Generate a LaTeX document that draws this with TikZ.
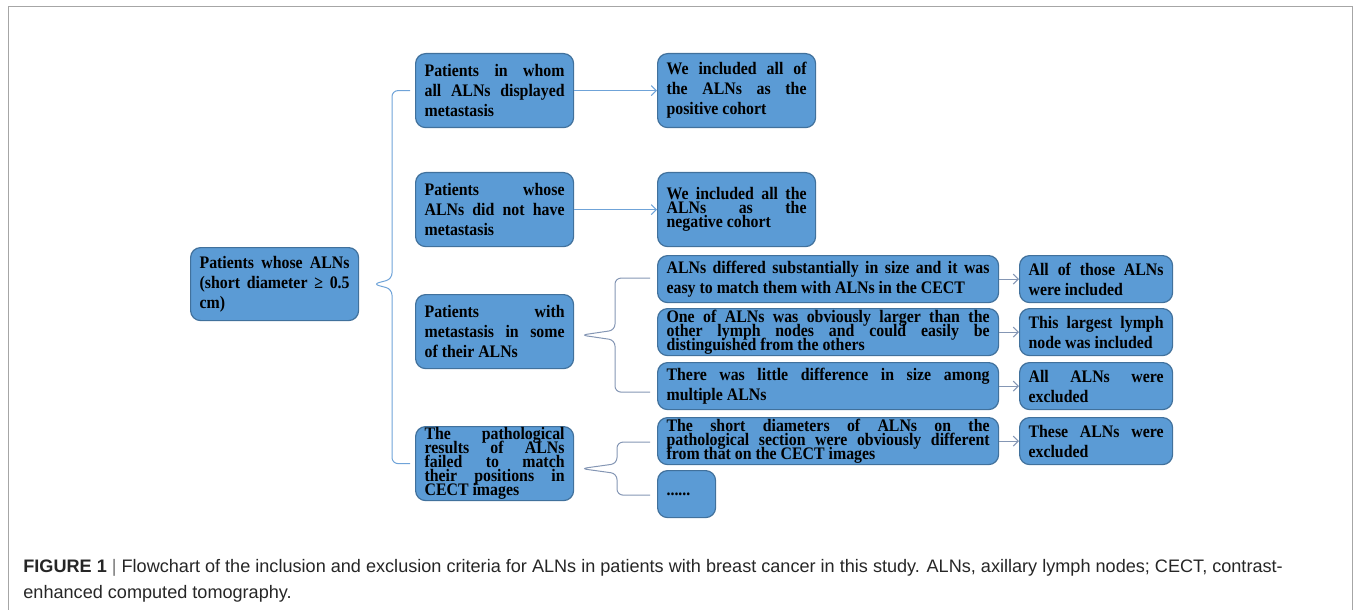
\documentclass[tikz,border=0pt]{standalone}
\usepackage{fontspec}
\setmainfont{Liberation Serif}[FakeStretch=0.9]
\newfontfamily\capfont{Liberation Sans}
\usetikzlibrary{arrows.meta,calc}

\definecolor{cellfill}{HTML}{5B9BD5}
\definecolor{cellline}{HTML}{41719C}
\definecolor{linkblue}{HTML}{6FA3D8}
\definecolor{braceslate}{HTML}{8496B4}
\definecolor{framegray}{HTML}{A6A6A6}

% one justified line of a box
\newcommand{\jl}[1]{{\parfillskip=0pt\relax #1\par}}
\newcommand{\cellfont}{\fontsize{8.8pt}{10pt}\selectfont\bfseries\parindent=0pt\parskip=0pt\relax}
\newcommand{\tightfont}{\fontsize{8.8pt}{7pt}\selectfont\bfseries\parindent=0pt\parskip=0pt\lineskiplimit=-20pt\relax}

\tikzset{
  cell/.style={draw=cellline, fill=cellfill, line width=0.6pt, rounded corners=5pt, align=justify,
    anchor=north west, inner xsep=4.5pt, inner ysep=0pt, font=\cellfont, text=black},
  tight/.style={font=\tightfont},
  link/.style={draw=linkblue, line width=0.5pt, -{Straight Barb[length=2.5pt,width=5pt]}},
  sublink/.style={link, draw=braceslate},
  bracket/.style={draw=linkblue, line width=0.5pt, rounded corners=3pt},
  subbracket/.style={bracket, draw=braceslate}
}

\begin{document}
\begin{tikzpicture}[x=0.5pt,y=-0.5pt]
  \useasboundingbox (0,0) rectangle (1356,610);
  \draw[framegray, line width=0.6pt] (8.5,612) -- (8.5,6.5) -- (1352.5,6.5) -- (1352.5,612);

  % root
  \node[cell, text width=75pt, minimum height=36.5pt] (root) at (190,247)
    {\jl{Patients whose ALNs}\jl{(short diameter ≥ 0.5}cm)};

  % first level
  \node[cell, text width=70pt, minimum height=37pt] (l1a) at (415,53)
    {\jl{Patients in whom}\jl{all ALNs displayed}metastasis};
  \node[cell, text width=70pt, minimum height=37pt] (l1b) at (415,172)
    {\jl{Patients whose}\jl{ALNs did not have}metastasis};
  \node[cell, text width=70pt, minimum height=37pt] (l1c) at (415,294)
    {\jl{Patients with}\jl{metastasis in some}of their ALNs};
  \node[cell, tight, text width=70pt, minimum height=37pt] (l1d) at (415,426)
    {\jl{The pathological}\jl{results of ALNs}\jl{failed to match}\jl{their positions in}CECT images};

  % cohorts
  \node[cell, text width=70pt, minimum height=37pt] (ra) at (657,53)
    {\jl{We included all of}\jl{the ALNs as the}positive cohort};
  \node[cell, tight, text width=70pt, minimum height=37pt] (rb) at (657,172)
    {\jl{We included all the}\jl{ALNs as the}negative cohort};

  % second level
  \node[cell, text width=161.5pt, minimum height=23.5pt] (c1) at (657,255)
    {\jl{ALNs differed substantially in size and it was}easy to match them with ALNs in the CECT};
  \node[cell, tight, text width=161.5pt, minimum height=23.5pt] (c2) at (657,308)
    {\jl{One of ALNs was obviously larger than the}\jl{other lymph nodes and could easily be}distinguished from the others};
  \node[cell, text width=161.5pt, minimum height=23.5pt] (c3) at (657,362)
    {\jl{There was little difference in size among}multiple ALNs};
  \node[cell, tight, text width=161.5pt, minimum height=23.5pt] (d1) at (657,417)
    {\jl{The short diameters of ALNs on the}\jl{pathological section were obviously different}from that on the CECT images};
  \node[cell, text width=20pt, minimum height=23.5pt] (d2) at (657,470) {......};

  % outcomes
  \node[cell, text width=67.5pt, minimum height=23.5pt] (e1) at (1019,255)
    {\jl{All of those ALNs}were included};
  \node[cell, text width=67.5pt, minimum height=23.5pt] (e2) at (1019,308)
    {\jl{This largest lymph}node was included};
  \node[cell, text width=67.5pt, minimum height=23.5pt] (e3) at (1019,362)
    {\jl{All ALNs were}excluded};
  \node[cell, text width=67.5pt, minimum height=23.5pt] (e4) at (1019,417)
    {\jl{These ALNs were}excluded};

  % arrows
  \draw[link] (l1a.east) -- (ra.west);
  \draw[link] (l1b.east) -- (rb.west);
  \draw[sublink] (c1.east) -- (e1.west);
  \draw[sublink] (c2.east) -- (e2.west);
  \draw[sublink] (c3.east) -- (e3.west);
  \draw[sublink] (d1.east) -- (e4.west);

  % big bracket
  \coordinate (ba) at ([xshift=-11.5pt]l1a.west);
  \coordinate (bd) at ([xshift=-11.5pt]l1d.west);
  \coordinate (btip) at ([xshift=7pt]root.east);
  \draw[bracket] ([xshift=-2.5pt]l1a.west) -- (ba) -- ($(ba |- btip)+(0,2.5pt)$) -- (btip)
    -- ($(ba |- btip)-(0,2.5pt)$) -- (bd) -- ([xshift=-2.5pt]l1d.west);

  % bracket of l1c
  \coordinate (ca) at ([xshift=-3.5pt,yshift=0.5pt]c1.west);
  \coordinate (cb) at ([xshift=-3.5pt,yshift=-3pt]c3.west);
  \coordinate (cm) at ($(ca)!0.5!(cb)$);
  \coordinate (ctip) at ($(cm -| l1c.east)+(3.5pt,0)$);
  \draw[subbracket] (ca) -- ($(ca)+(-17.5pt,0)$) -- ($(cm)+(-17.5pt,2.5pt)$) -- (ctip)
    -- ($(cm)+(-17.5pt,-2.5pt)$) -- ($(cb)+(-17.5pt,0)$) -- (cb);

  % bracket of l1d
  \coordinate (da) at ([xshift=-3.5pt,yshift=-0.5pt]d1.west);
  \coordinate (db) at ([xshift=-3.5pt,yshift=-0.5pt]d2.west);
  \coordinate (dm) at ($(da)!0.5!(db)$);
  \coordinate (dtip) at ($(dm -| l1d.east)+(3.5pt,0)$);
  \draw[subbracket] (da) -- ($(da)+(-16.5pt,0)$) -- ($(dm)+(-16.5pt,2.5pt)$) -- (dtip)
    -- ($(dm)+(-16.5pt,-2.5pt)$) -- ($(db)+(-16.5pt,0)$) -- (db);

  % caption
  \node[anchor=base west, inner sep=0pt, align=left, font=\capfont\fontsize{9.05pt}{13pt}\selectfont,
    text=black!85] (cap) at (23,598)
    {{\bfseries FIGURE 1} {\color{black!55}|} Flowchart of the inclusion and exclusion criteria for ALNs in patients with breast cancer in this study. ALNs, axillary lymph nodes; CECT, contrast-\\
     enhanced computed tomography.};
\end{tikzpicture}
\end{document}
